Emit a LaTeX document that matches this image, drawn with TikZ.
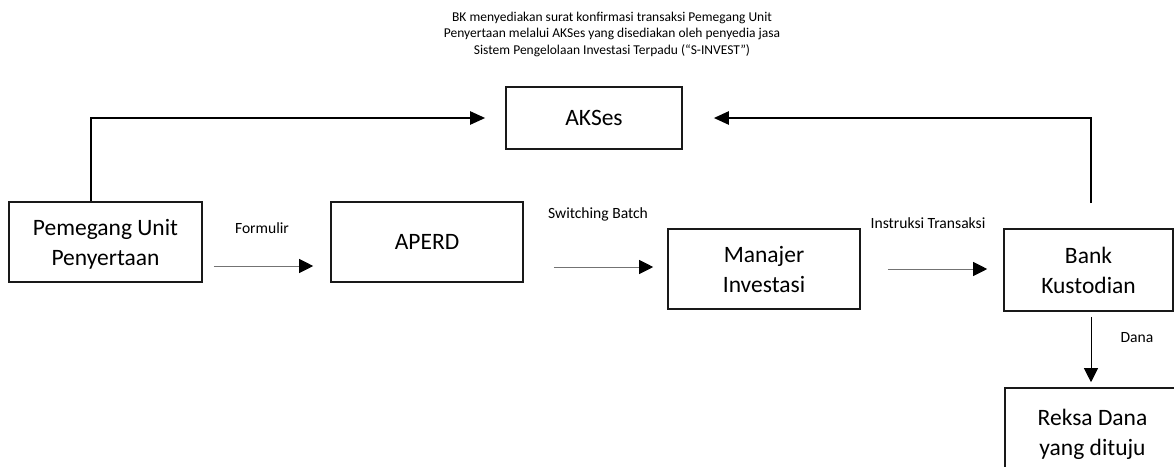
\documentclass[tikz,border=0pt]{standalone}
\usepackage{fontspec}
\setmainfont{Carlito}
\usetikzlibrary{arrows.meta,calc}
\begin{document}
\begin{tikzpicture}[x=1pt,y=-1pt,
  box/.style={draw=black!90, line width=1.6pt, fill=none, inner sep=0pt, align=center,
    font=\fontsize{23.5}{30}\selectfont},
  lbl/.style={inner sep=0pt, font=\fontsize{15.6}{18}\selectfont},
  thickarr/.style={draw=black, line width=2.3pt, -{Triangle[length=15pt,width=13pt]}},
  thinarr/.style={draw=black!55, line width=1pt, -{Triangle[length=14pt,width=14pt,color=black]}},
  downarr/.style={draw=black, line width=1pt, -{Triangle[length=14pt,width=14pt,color=black]}}
]
\useasboundingbox (0,0) rectangle (1174,466);
\clip (0,0) rectangle (1174,466);
\fill[white] (0,0) rectangle (1174,466);

\node[inner sep=0pt, align=center, font=\fontsize{13.5}{16.5}\selectfont] (title) at (612,34)
  {BK menyediakan surat konfirmasi transaksi Pemegang Unit\\
   Penyertaan melalui AKSes yang disediakan oleh penyedia jasa\\
   Sistem Pengelolaan Investasi Terpadu (“S-INVEST”)};

\node[box, minimum width=193pt, minimum height=80pt, text height=51pt] (pem) at (105.5,242) {Pemegang Unit\\Penyertaan};
\node[box, minimum width=192pt, minimum height=80pt] (aperd) at (427,242) {APERD};
\node[box, minimum width=176pt, minimum height=62pt] (akses) at (594,118) {AKSes};
\node[box, minimum width=192pt, minimum height=80pt] (manajer) at (764,269) {Manajer\\Investasi};
\node[box, minimum width=169pt, minimum height=82pt] (bank) at (1088.5,270) {Bank\\Kustodian};
\node[box, minimum width=175pt, minimum height=92pt] (reksa) at (1092.5,434) {Reksa Dana\\yang dituju};

\node[lbl] (lF) at (262,228) {Formulir};
\node[lbl] (lS) at (598,214) {Switching Batch};
\node[lbl] (lI) at (928,223) {Instruksi Transaksi};
\node[lbl] (lD) at (1137,338) {Dana};

\draw[thickarr] ([shift={(-14.5,0)}]pem.north) |- ([xshift=-20pt]akses.west);
\draw[thickarr] ([shift={(2.5,-25)}]bank.north) |- ([xshift=31pt]akses.east);

\draw[thinarr] ([shift={(11,24)}]pem.east) -- ([shift={(-17,24)}]aperd.west);
\draw[thinarr] ([shift={(30,25)}]aperd.east) -- ([shift={(-14,-2)}]manajer.west);
\draw[thinarr] ([shift={(27,0)}]manajer.east) -- ([shift={(-16,-1)}]bank.west);
\draw[downarr] ([shift={(2.5,5)}]bank.south) -- ([shift={(-1.5,-5)}]reksa.north);
\end{tikzpicture}
\end{document}
